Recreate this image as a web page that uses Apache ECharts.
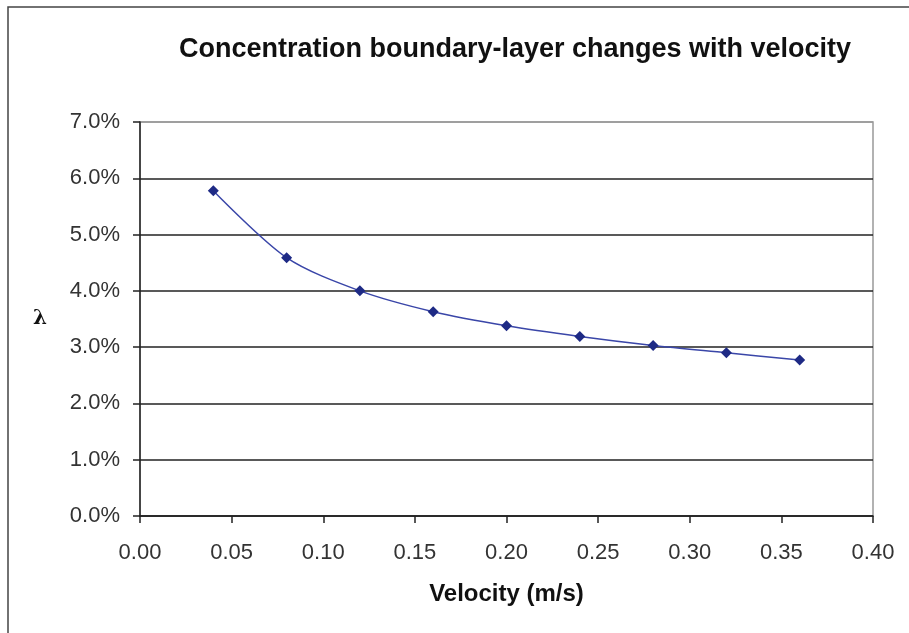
<!DOCTYPE html>
<html>
<head>
<meta charset="utf-8">
<script src="https://cdn.jsdelivr.net/npm/echarts@6/dist/echarts.min.js"></script>
<style>
html, body { margin: 0; padding: 0; background: #fff; }
#chart { width: 909px; height: 633px; }
</style>
</head>
<body>
<div id="chart"></div>
<script>
// velocity (m/s) and lambda (%)
var velocity = [0.04, 0.08, 0.12, 0.16, 0.20, 0.24, 0.28, 0.32, 0.36];
var lambda = [5.78, 4.59, 4.00, 3.63, 3.38, 3.19, 3.03, 2.90, 2.77];
var titleText = "Concentration boundary-layer changes with velocity";
var xName = "Velocity (m/s)";
var yName = "λ";

var points = velocity.map(function (v, i) { return [v, lambda[i]]; });

var chart = echarts.init(document.getElementById("chart"));
chart.setOption({
    backgroundColor: "#fff",
    animation: false,
    title: {
        text: titleText,
        left: 510,
        top: 31,
        textAlign: "center",
        textStyle: {
            fontFamily: "Liberation Sans",
            fontWeight: "bold",
            fontSize: 27,
            color: "#111"
        }
    },
    graphic: [{
        type: "rect",
        shape: { x: 8, y: 7, width: 960, height: 700 },
        style: { fill: "none", stroke: "#444", lineWidth: 1.5 },
        z: -1
    }],
    grid: {
        left: 140,
        right: 36,
        top: 122,
        bottom: 117,
        show: true,
        borderColor: "#999",
        borderWidth: 1.5
    },
    xAxis: {
        type: "value",
        min: 0,
        max: 0.4,
        interval: 0.05,
        name: xName,
        nameLocation: "middle",
        nameGap: 66,
        nameTextStyle: {
            fontFamily: "Liberation Sans",
            fontWeight: "bold",
            fontSize: 24,
            color: "#111"
        },
        axisLine: { lineStyle: { color: "#222", width: 1.5 } },
        axisTick: { show: true, inside: false, length: 7, lineStyle: { color: "#222", width: 1.5 } },
        axisLabel: {
            fontFamily: "Liberation Sans",
            fontSize: 22,
            color: "#333",
            margin: 26,
            formatter: function (v) { return v.toFixed(2); }
        },
        splitLine: { show: false }
    },
    yAxis: {
        type: "value",
        min: 0,
        max: 7,
        interval: 1,
        name: yName,
        nameLocation: "middle",
        nameRotate: 0,
        nameGap: 93,
        nameTextStyle: {
            fontFamily: "DejaVu Serif",
            fontWeight: "bold",
            fontSize: 20,
            color: "#111"
        },
        axisLine: { show: true, lineStyle: { color: "#222", width: 1.5 } },
        axisTick: { show: true, inside: false, length: 7, lineStyle: { color: "#222", width: 1.5 } },
        axisLabel: {
            fontFamily: "Liberation Sans",
            fontSize: 22,
            color: "#333",
            margin: 20,
            formatter: function (v) { return v.toFixed(1) + "%"; }
        },
        splitLine: {
            show: true,
            lineStyle: {
                color: ["#222", "#222", "#222", "#222", "#222", "#222", "#222", "#999"],
                width: 1.5
            }
        }
    },
    series: [{
        type: "line",
        data: points,
        smooth: 0.3,
        symbol: "diamond",
        symbolSize: 11,
        lineStyle: { color: "#3a46a8", width: 1.5 },
        itemStyle: { color: "#1e2a85" }
    }]
});
</script>
</body>
</html>
